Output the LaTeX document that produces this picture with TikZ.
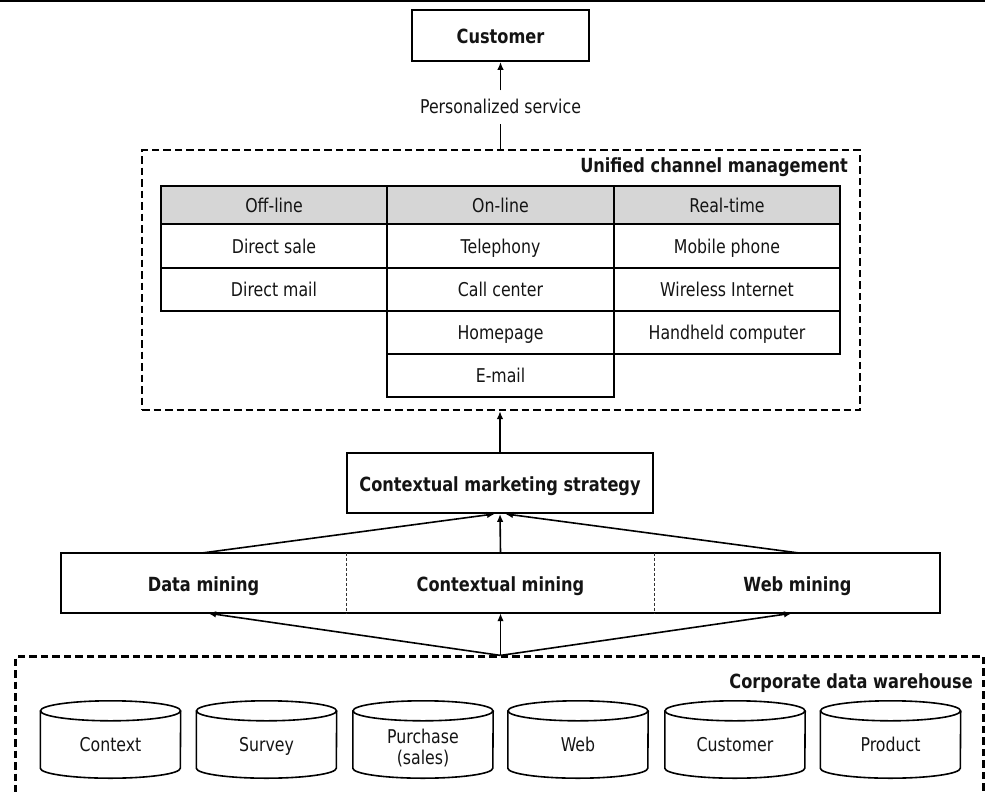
\documentclass[tikz,border=0pt]{standalone}
\usepackage{fontspec}
\setmainfont{DejaVu Sans}[FakeStretch=0.83]
\usetikzlibrary{arrows.meta}
\definecolor{headgray}{gray}{0.84}
\definecolor{ink}{gray}{0.08}
\newcommand\regtext{\fontsize{19}{23}\selectfont}
\newcommand\boldtext{\fontsize{19.5}{23}\selectfont\bfseries}

\begin{document}
\begin{tikzpicture}[x=1pt,y=-1pt,
  every node/.style={text=ink, inner sep=0pt},
  cell/.style={draw=black, line width=1.6pt, minimum width=226.5pt, minimum height=43pt,
    font=\regtext, text height=14pt, text depth=0pt},
  headcell/.style={cell, fill=headgray, minimum height=38pt},
  solidbox/.style={draw=black, line width=1.7pt, font=\boldtext, text height=16pt, text depth=0pt},
  groupbox/.style={draw=black, line width=2.2pt, dash pattern=on 7.5pt off 4pt},
  grouplabel/.style={font=\boldtext, anchor=base east},
  part/.style={minimum height=60pt, font=\boldtext, text height=16pt, text depth=0pt},
  divider/.style={draw=black!80, line width=1pt, dash pattern=on 3pt off 2pt},
  link/.style={draw=black, line width=1.6pt, -{Latex[length=8pt,width=6.5pt]}},
  plain/.style={draw=black, line width=1.6pt},
  store/.style={minimum width=140pt, minimum height=67pt, font=\regtext, text height=14pt, text depth=0pt},
  storeline/.style={draw=black, line width=1.6pt}
]
\path[use as bounding box] (0,0) rectangle (985,792);
\clip (0,0) rectangle (985,792);

% rule along the top edge
\draw[line width=2.2pt] (0,1) -- (985,1);

% customer and personalized service link
\node[solidbox, minimum width=177pt, minimum height=51pt] (cust) at (500.5,35.5) {Customer};
\node[font=\regtext, minimum height=33pt, text height=13pt, text depth=0pt] (ps) at (500.5,107) {Personalized service};

% unified channel management group
\node[groupbox, minimum width=718pt, minimum height=260pt] (ucm) at (501,280) {};
\node[grouplabel] (ucmlabel) at (848,172.5) {Unified channel management};

% channel table
\node[headcell] (h1) at (274,205) {Off-line};
\node[headcell] (h2) at (500.5,205) {On-line};
\node[headcell] (h3) at (727,205) {Real-time};

\node[cell, minimum height=44pt] (a1) at (274,246) {Direct sale};
\node[cell] (a2) at (274,289.5) {Direct mail};

\node[cell, minimum height=44pt] (b1) at (500.5,246) {Telephony};
\node[cell] (b2) at (500.5,289.5) {Call center};
\node[cell] (b3) at (500.5,332.5) {Homepage};
\node[cell] (b4) at (500.5,375.5) {E-mail};

\node[cell, minimum height=44pt] (c1) at (727,246) {Mobile phone};
\node[cell] (c2) at (727,289.5) {Wireless Internet};
\node[cell] (c3) at (727,332.5) {Handheld computer};

% strategy box
\node[solidbox, minimum width=306pt, minimum height=60pt] (cms) at (500,483) {Contextual marketing strategy};

% mining layer
\node[draw=black, line width=1.7pt, minimum width=879pt, minimum height=60pt] (mining) at (500.5,583) {};
\node[part, minimum width=285pt] (dm) at (203.5,583) {Data mining};
\node[part, minimum width=309pt] (cm) at (500.5,583) {Contextual mining};
\node[part, minimum width=285pt] (wm) at (797.5,583) {Web mining};
\draw[divider] (dm.north east) -- (dm.south east);
\draw[divider] (wm.north west) -- (wm.south west);

% corporate data warehouse group
\node[groupbox, minimum width=968pt, minimum height=143.5pt] (cdw) at (499.5,728.25) {};
\node[grouplabel] (cdwlabel) at (973,688) {Corporate data warehouse};

% data stores
\node[store] (db1) at (110.5,744.5) {Context};
\node[store] (db2) at (266.5,744.5) {Survey};
\node[store, align=center, text height=, font=\fontsize{19}{21}\selectfont] (db3) at (423,746.5) {Purchase\\(sales)};
\node[store] (db4) at (578,744.5) {Web};
\node[store] (db5) at (735,744.5) {Customer};
\node[store] (db6) at (890.5,744.5) {Product};
\foreach \n in {db1,db2,db4,db5,db6} {
  \draw[storeline] (\n.north) ellipse [x radius=70pt, y radius=10pt];
  \draw[storeline] (\n.north west) -- ([yshift=10pt]\n.south west)
    arc[start angle=180, end angle=360, x radius=70pt, y radius=10pt] -- (\n.north east);
}
\draw[storeline] ([yshift=2pt]db3.north) ellipse [x radius=70pt, y radius=10pt];
\draw[storeline] ([yshift=2pt]db3.north west) -- ([yshift=12pt]db3.south west)
  arc[start angle=180, end angle=360, x radius=70pt, y radius=10pt] -- ([yshift=2pt]db3.north east);

% connectors
\draw[plain] (ps.south |- ucm.north) -- (ps.south);
\draw[link] (ps.north) -- (cust.south);
\draw[link] (cms.north) -- (cms.north |- ucm.south);
\draw[link] (dm.north) -- ([xshift=-5pt]cms.south);
\draw[link] (cm.north) -- (cms.south);
\draw[link] (wm.north) -- ([xshift=5pt]cms.south);
\draw[link] (cm.south |- cdw.north) -- ([xshift=4.5pt]dm.south);
\draw[link] (cm.south |- cdw.north) -- (cm.south);
\draw[link] (cm.south |- cdw.north) -- ([xshift=-5.5pt]wm.south);
\end{tikzpicture}
\end{document}
